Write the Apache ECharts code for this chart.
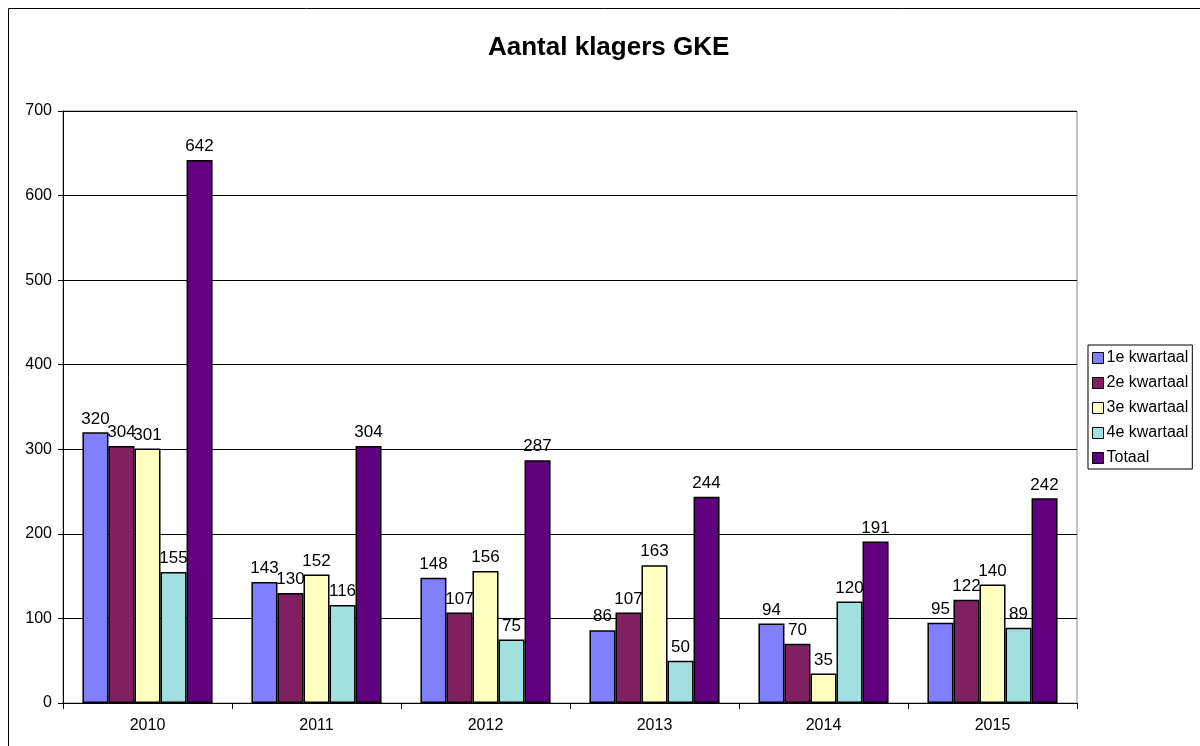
<!DOCTYPE html>
<html>
<head>
<meta charset="utf-8">
<script src="https://cdn.jsdelivr.net/npm/echarts@6/dist/echarts.min.js"></script>
<style>
  html, body { margin: 0; padding: 0; background: #fff; }
  #main { width: 1200px; height: 746px; }
</style>
</head>
<body>
<div id="main"></div>
<script>
// jaren (categorieen)
var years = ['2010', '2011', '2012', '2013', '2014', '2015'];
var q1 = [320, 143, 148, 86, 94, 95];
var q2 = [304, 130, 107, 107, 70, 122];
var q3 = [301, 152, 156, 163, 35, 140];
var q4 = [155, 116, 75, 50, 120, 89];
var totaal = [642, 304, 287, 244, 191, 242];
var seriesNames = ['1e kwartaal', '2e kwartaal', '3e kwartaal', '4e kwartaal', 'Totaal'];
var seriesColors = ['#8080FF', '#802060', '#FFFFC0', '#A0E0E0', '#600080'];

var chart = echarts.init(document.getElementById('main'));

var makeSeries = function (name, data, color) {
  return {
    name: name,
    type: 'bar',
    data: data,
    barGap: '0%',
    barCategoryGap: '23%',
    itemStyle: { color: color, borderColor: '#000', borderWidth: 1.5 },
    label: {
      show: true,
      position: 'top',
      distance: 5,
      color: '#000',
      fontSize: 17,
      fontFamily: 'Liberation Sans, Arial'
    }
  };
};

var option = {
  backgroundColor: '#fff',
  animation: false,
  textStyle: { fontFamily: 'Liberation Sans, Arial' },
  title: {
    text: 'Aantal klagers GKE',
    left: 483,
    top: 30,
    textStyle: { fontSize: 26, fontWeight: 'bold', color: '#000' }
  },
  legend: {
    orient: 'vertical',
    left: 1088,
    top: 345,
    itemWidth: 11,
    itemHeight: 11,
    itemGap: 9,
    padding: [5, 4, 3, 4],
    borderColor: '#000',
    borderWidth: 1,
    textStyle: { fontSize: 16, color: '#000', padding: [0, 0, 0, -2] },
    data: seriesNames.map(function (n) {
      return { name: n, icon: 'rect', itemStyle: { borderColor: '#000', borderWidth: 1 } };
    })
  },
  grid: { left: 63, right: 123, top: 111, bottom: 43, containLabel: false, show: true, borderColor: '#888', borderWidth: 1 },
  xAxis: {
    type: 'category',
    data: years,
    axisLine: { lineStyle: { color: '#000', width: 1 } },
    axisTick: { show: true, length: 6, lineStyle: { color: '#000' } },
    axisLabel: { color: '#000', fontSize: 16, margin: 15 }
  },
  yAxis: {
    type: 'value',
    min: 0,
    max: 700,
    interval: 100,
    axisLine: { show: true, lineStyle: { color: '#000', width: 1 } },
    axisTick: { show: true, length: 5, lineStyle: { color: '#000' } },
    axisLabel: { color: '#000', fontSize: 16, margin: 11 },
    splitLine: { lineStyle: { color: '#000', width: 1 } }
  },
  graphic: [{
    type: 'rect',
    shape: { x: 8.5, y: 8.5, width: 1300, height: 1000 },
    style: { fill: null, stroke: '#000', lineWidth: 1 },
    silent: true
  }],
  series: [
    makeSeries(seriesNames[0], q1, seriesColors[0]),
    makeSeries(seriesNames[1], q2, seriesColors[1]),
    makeSeries(seriesNames[2], q3, seriesColors[2]),
    makeSeries(seriesNames[3], q4, seriesColors[3]),
    makeSeries(seriesNames[4], totaal, seriesColors[4])
  ]
};

chart.setOption(option);
</script>
</body>
</html>
